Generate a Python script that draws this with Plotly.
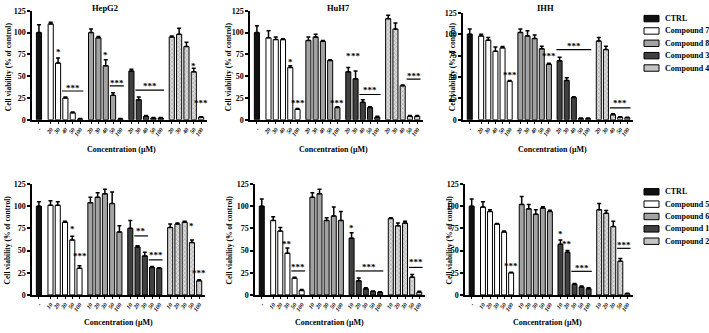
import plotly.graph_objects as go

W, H = 709, 333

# ---------------- data ----------------
panel_titles = ["HepG2", "HuH7", "IHH", "", "", ""]
conc_top = ["20", "30", "40", "50", "100"]
conc_bottom = ["10", "20", "30", "50", "100"]
names_top = ["CTRL", "Compound 7", "Compound 8", "Compound 3", "Compound 4"]
names_bottom = ["CTRL", "Compound 5", "Compound 6", "Compound 1", "Compound 2"]

# panel 1 HepG2 (top row)
p1_ctrl = [100]; p1_ctrl_sd = [9]
p1_vals = [[110, 65, 25, 8, 1], [100, 94, 62, 28, 1], [56, 23, 4, 2, 2], [95, 98, 84, 55, 3]]
p1_sd = [[2, 6, 1, 1, 0.5], [4, 1.5, 7, 3, 0.5], [2, 3, 1, 0.5, 0.5], [1, 7, 5, 4, 0.5]]
# panel 2 HuH7
p2_ctrl = [100]; p2_ctrl_sd = [8]
p2_vals = [[94, 92, 92, 60, 12], [91, 95, 90, 68, 14], [55, 47, 20, 14, 3], [116, 104, 39, 4, 4]]
p2_sd = [[8, 3, 1, 2, 1], [4, 3, 1, 1, 1], [5, 9, 3, 1, 1], [4, 7, 1, 1, 1]]
# panel 3 IHH
p3_ctrl = [100]; p3_ctrl_sd = [6]
p3_vals = [[98, 93, 80, 84, 45], [102, 98, 95, 83, 65], [69, 46, 26, 1.5, 1.5], [92, 82, 6, 3, 2.5]]
p3_sd = [[2, 3, 5, 1.5, 1], [4, 6, 4, 3, 1], [4, 3, 1, 0.5, 0.5], [4, 4, 1, 0.5, 0.5]]
# panel 4 (bottom row)
p4_ctrl = [100]; p4_ctrl_sd = [5]
p4_vals = [[101, 101, 82, 62, 30], [104, 110, 114, 103, 71], [75, 54, 44, 31, 30], [76, 80, 82, 59, 16]]
p4_sd = [[5, 4, 1, 4, 3], [6, 5, 5, 13, 7], [9, 1.5, 4, 1, 0.5], [4, 1, 1, 3, 1]]
# panel 5
p5_ctrl = [100]; p5_ctrl_sd = [8]
p5_vals = [[84, 72, 47, 19, 5], [110, 114, 84, 89, 84], [64, 16, 7, 4, 3], [86, 78, 81, 20, 3]]
p5_sd = [[4, 4, 6, 1, 1], [5, 5, 3, 10, 10], [6, 3, 1, 0.5, 0.5], [1, 3, 2, 3, 1]]
# panel 6
p6_ctrl = [100]; p6_ctrl_sd = [8]
p6_vals = [[99, 94, 80, 71, 25], [102, 97, 91, 98, 94], [57, 48, 12, 9, 7], [96, 92, 77, 38, 1.5]]
p6_sd = [[6, 2, 0.5, 1, 0.5], [9, 5, 5, 1.5, 1.5], [5, 2, 1, 1, 1], [7, 3, 6, 3, 0.5]]

# significance marks: (group, first bar, last bar, text, star y, line y or None)
p1_sig = [(0, 1, 1, "*", 80, None), (0, 2, 4, "***", 39, 33), (1, 2, 2, "*", 77, None),
          (1, 3, 4, "***", 45, 39), (2, 1, 4, "***", 41, 34), (3, 3, 3, "*", 64, None),
          (3, 4, 4, "***", 21, None)]
p2_sig = [(0, 3, 3, "*", 69, None), (0, 4, 4, "***", 22, None), (1, 4, 4, "***", 22, None),
          (2, 0, 0, "*", 75, None), (2, 1, 1, "**", 75, None), (2, 2, 4, "***", 36, 29),
          (3, 3, 4, "***", 53, 46.6)]
p3_sig = [(0, 4, 4, "***", 55, None), (1, 4, 4, "***", 77, None), (2, 0, 4, "***", 89, 82),
          (3, 2, 4, "***", 22, 14)]
p4_sig = [(0, 3, 3, "*", 76, None), (0, 4, 4, "***", 46, None), (2, 1, 2, "**", 74, 66.5),
          (2, 3, 4, "***", 47, 39.5), (3, 3, 3, "*", 80, None), (3, 4, 4, "***", 27, None)]
p5_sig = [(0, 2, 2, "**", 60, None), (0, 3, 4, "***", 34, 27), (2, 0, 0, "*", 78, None),
          (2, 1, 4, "***", 34, 27), (3, 3, 4, "***", 39, 31)]
p6_sig = [(0, 4, 4, "***", 35, None), (2, 0, 0, "*", 71, None), (2, 1, 1, "**", 60, None),
          (2, 2, 4, "***", 33, 26.6), (3, 3, 4, "***", 59, 52.5)]

panels = [
    (p1_ctrl, p1_ctrl_sd, p1_vals, p1_sd, p1_sig, conc_top),
    (p2_ctrl, p2_ctrl_sd, p2_vals, p2_sd, p2_sig, conc_top),
    (p3_ctrl, p3_ctrl_sd, p3_vals, p3_sd, p3_sig, conc_top),
    (p4_ctrl, p4_ctrl_sd, p4_vals, p4_sd, p4_sig, conc_bottom),
    (p5_ctrl, p5_ctrl_sd, p5_vals, p5_sd, p5_sig, conc_bottom),
    (p6_ctrl, p6_ctrl_sd, p6_vals, p6_sd, p6_sig, conc_bottom),
]

# ---------------- styles / layout ----------------
FONT = "Liberation Serif"
styles = [
    dict(color="#111111"),
    dict(color="#ffffff"),
    dict(color="#a3a3a3"),
    dict(color="#404040"),
    dict(color="#d0d0d0", pattern=dict(shape="x", fgcolor="#707070", bgcolor="#dcdcdc", size=3, solidity=0.35)),
]
legend_fill = ["#111111", "#ffffff", "#a3a3a3", "#404040", "#c4c4c4"]

def px(x):
    return x / W

def py(y):
    return 1 - y / H

x_domains = [(32, 207), (250, 423), (463, 633), (32, 205), (255, 425), (465, 633)]
y_domains = [(119, 7), (119, 7), (119, 9), (299, 185), (299, 185), (299, 185)]
title_pos = [(105, 4), (338, 4), (545, 4)]
ytitle_pos = [(8, 65), (228, 65), (452, 65), (7, 243), (229, 243), (449, 243)]
xtitle_pos = [(121, 150), (333, 150), (552, 150), (118, 327), (329, 327), (547, 327)]

CTRL_X = 0.0
GROUP_START = 1.6
GROUP_STEP = 5.5

def bar_x(g, i):
    return GROUP_START + g * GROUP_STEP + i

fig = go.Figure()
shapes = []
annotations = []

for k, (ctrl, ctrl_sd, vals, sds, sig, conc) in enumerate(panels):
    ax = "" if k == 0 else str(k + 1)
    xref, yref = "x" + ax, "y" + ax
    # CTRL
    fig.add_trace(go.Bar(
        x=[CTRL_X], y=ctrl, width=0.7, xaxis=xref, yaxis=yref, showlegend=False,
        marker=dict(**styles[0], line=dict(color="black", width=1)),
        error_y=dict(type="data", array=ctrl_sd, arrayminus=[0], symmetric=False,
                     color="black", thickness=1.5, width=2)))
    for g in range(4):
        xs = [bar_x(g, i) for i in range(5)]
        fig.add_trace(go.Bar(
            x=xs, y=vals[g], width=0.7, xaxis=xref, yaxis=yref, showlegend=False,
            marker=dict(**styles[g + 1], line=dict(color="black", width=1)),
            error_y=dict(type="data", array=sds[g], arrayminus=[0] * 5, symmetric=False,
                         color="black", thickness=1.5, width=2)))
    tickvals = [CTRL_X] + [bar_x(g, i) for g in range(4) for i in range(5)]
    ticktext = ["-"] + conc * 4
    xd, yd = x_domains[k], y_domains[k]
    fig.update_layout(**{
        "xaxis" + ax: dict(domain=[px(xd[0]), px(xd[1])], range=[-0.95, 22.9],
                           anchor=yref, showline=True, linecolor="black", linewidth=1.5,
                           ticks="outside", ticklen=2, tickwidth=1, tickcolor="black",
                           tickvals=tickvals, ticktext=ticktext, tickangle=-55,
                           tickfont=dict(family=FONT, size=6, color="black", weight=700, style="italic"),
                           showgrid=False, zeroline=False, fixedrange=True),
        "yaxis" + ax: dict(domain=[py(yd[0]), py(yd[1])], range=[0, 125], anchor=xref,
                           showline=True, linecolor="black", linewidth=1.5,
                           ticks="outside", ticklen=3, tickwidth=1.5, tickcolor="black",
                           tickvals=[0, 25, 50, 75, 100, 125],
                           tickfont=dict(family=FONT, size=8, color="black", weight=700),
                           showgrid=False, zeroline=False, fixedrange=True),
    })
    # significance marks
    for (g, b0, b1, txt, ys, yl) in sig:
        x0, x1 = bar_x(g, b0), bar_x(g, b1)
        xc = (x0 + x1) / 2
        if yl is not None:
            shapes.append(dict(type="line", xref=xref, yref=yref, x0=x0 - 0.45, x1=x1 + 0.45,
                               y0=yl, y1=yl, line=dict(color="black", width=1.2)))
        annotations.append(dict(x=xc, y=ys, xref=xref, yref=yref, text=txt, showarrow=False,
                                yanchor="middle", yshift=-2,
                                font=dict(family=FONT, size=9, color="black", weight=700)))
    # titles
    if panel_titles[k]:
        tx, ty = title_pos[k]
        annotations.append(dict(x=px(tx), y=py(ty), xref="paper", yref="paper", text=panel_titles[k],
                                showarrow=False, xanchor="center", yanchor="middle",
                                font=dict(family=FONT, size=8.5, color="black", weight=700)))
    yx, yy = ytitle_pos[k]
    annotations.append(dict(x=px(yx), y=py(yy), xref="paper", yref="paper",
                            text="Cell viability (% of control)", textangle=-90, showarrow=False,
                            xanchor="center", yanchor="middle",
                            font=dict(family=FONT, size=7.5, color="black", weight=700)))
    xx, xy = xtitle_pos[k]
    annotations.append(dict(x=px(xx), y=py(xy), xref="paper", yref="paper",
                            text="Concentration (μM)", showarrow=False,
                            xanchor="center", yanchor="middle",
                            font=dict(family=FONT, size=8, color="black", weight=700)))

# manual legends
for names, y0 in ((names_top, 15), (names_bottom, 193)):
    for j, nm in enumerate(names):
        yc = y0 + j * 12.7
        shapes.append(dict(type="rect", xref="paper", yref="paper",
                           x0=px(644), x1=px(659), y0=py(yc + 3.3), y1=py(yc - 3.3),
                           fillcolor=legend_fill[j], line=dict(color="black", width=1)))
        annotations.append(dict(x=px(662.5), y=py(yc), xref="paper", yref="paper", text=nm,
                                showarrow=False, xanchor="left", yanchor="middle",
                                font=dict(family=FONT, size=8, color="black", weight=700)))

fig.update_layout(width=W, height=H, margin=dict(l=0, r=0, t=0, b=0),
                  paper_bgcolor="white", plot_bgcolor="white", barmode="overlay",
                  showlegend=False, shapes=shapes, annotations=annotations)

fig.write_html("out.html")
